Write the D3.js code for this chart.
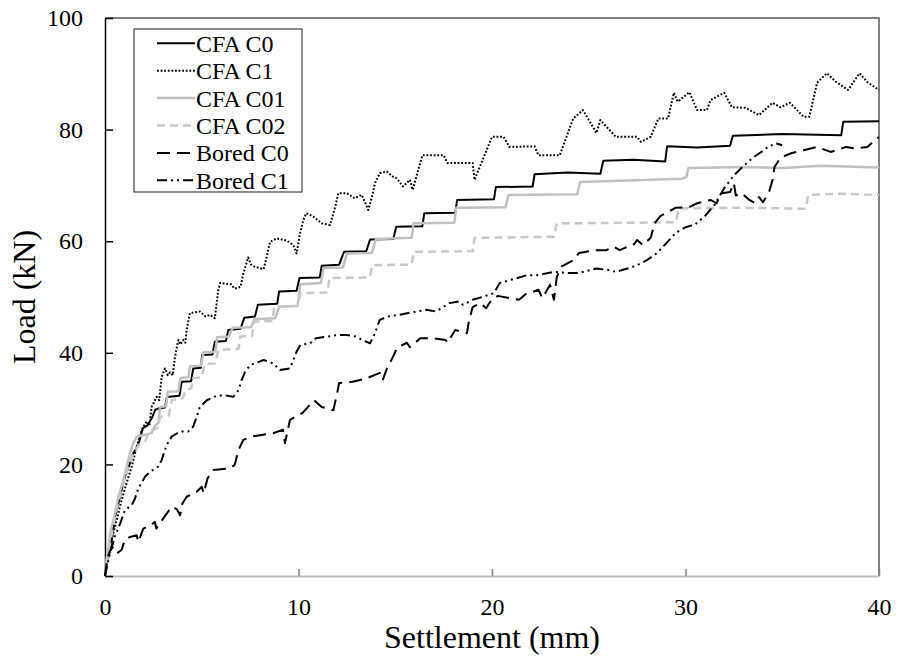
<!DOCTYPE html>
<html>
<head>
<meta charset="utf-8">
<script src="https://cdn.jsdelivr.net/npm/d3@7"></script>
<style>
  body { margin: 0; background: #fff; }
  text { font-family: "Liberation Serif", "Times New Roman", serif; }
</style>
</head>
<body>
<script>
const width = 897;
const height = 658;

const xTicks = [0, 10, 20, 30, 40];
const yTicks = [0, 20, 40, 60, 80, 100];
const seriesNames = ["CFA C0", "CFA C1", "CFA C01", "CFA C02", "Bored C0", "Bored C1"];

// [settlement (mm), load (kN)]
const cfaC0 = [[0,0],[0.1,2.5],[0.26,4.7],[0.35,6.5],[0.52,10.6],[0.69,13],[0.86,15.4],[1.03,17.8],[1.29,20.2],[1.46,22],[1.72,23.5],[1.96,26.5],[2.2,27],[2.45,28.5],[2.6,29.8],[2.75,30],[3.1,30.2],[3.2,32.1],[3.85,32.3],[3.96,34.8],[4.45,34.9],[4.56,37.2],[4.95,37.3],[5.02,39.6],[5.55,39.7],[5.68,42],[6.25,42.1],[6.37,44.1],[7.0,44.3],[7.2,46.3],[7.75,46.5],[7.9,48.6],[8.9,48.8],[9.0,51],[9.9,51.1],[10.05,53.4],[11.1,53.5],[11.2,55.6],[12.1,55.8],[12.35,58.1],[13.5,58.2],[13.7,60.3],[14.9,60.4],[15.05,62.6],[16.4,62.7],[16.5,65],[18.1,65.1],[18.2,67.4],[20.1,67.5],[20.2,69.7],[22.1,69.8],[22.2,72],[23.9,72.3],[25.6,72.1],[25.75,74.4],[27.3,74.6],[28.95,74.3],[29.05,77],[30.6,76.8],[32.3,77.1],[32.45,78.9],[35,79.2],[38.05,79],[38.15,81.4],[40,81.5]];

const cfaC1 = [[0,0],[0.15,3],[0.35,6.5],[0.6,10],[0.85,13.5],[1.1,16.5],[1.38,19.6],[1.64,23.2],[1.9,26.2],[2.15,27.7],[2.3,27],[2.41,30.3],[2.67,32.1],[2.8,31.5],[2.93,35.7],[3.1,37.2],[3.25,36],[3.36,36.5],[3.5,36],[3.62,39.3],[3.79,42.3],[3.9,41.5],[4.05,42.3],[4.15,41.8],[4.22,44.1],[4.39,47.1],[4.9,47.4],[5.2,46.5],[5.43,46.8],[5.68,46.2],[5.77,48.9],[5.86,51.3],[5.95,52.5],[6.5,52.3],[6.7,51.5],[7.0,51.8],[7.15,54.2],[7.4,57.1],[7.55,55.8],[7.75,55.4],[8.2,55],[8.36,57.2],[8.53,59.9],[8.87,60.5],[9.4,60.1],[9.73,59.3],[9.9,57.8],[10.08,61.4],[10.25,63.8],[10.4,65],[10.77,64.4],[11.2,63.2],[11.63,62.9],[11.9,66.2],[12.06,68.6],[12.5,68.6],[12.9,67.7],[13.27,68.3],[13.5,66.5],[13.6,65.6],[13.8,68],[13.95,70.4],[14.2,72.2],[14.56,72.5],[14.9,71.5],[15.07,71.3],[15.4,69.8],[15.76,71],[15.9,69.2],[16.4,75.4],[17.5,75.4],[17.7,74],[19.0,74],[19.1,71],[20.0,78.7],[20.6,78.7],[20.9,76.9],[22.2,77],[22.4,75.4],[23.5,75.4],[24.2,82],[24.7,83.5],[25.4,79.4],[25.6,81.7],[26.4,78.7],[27.5,78.7],[27.7,77.8],[28.2,78.7],[28.6,82],[29.1,82],[29.4,86.6],[29.6,85],[30.2,86.7],[30.6,83.5],[31.1,83.5],[31.3,85.3],[32,86.6],[32.4,84],[33.1,83.9],[33.8,82.6],[34.5,84.8],[34.9,84],[35.4,84.8],[36.1,82.3],[36.4,82.3],[36.8,88.4],[37.3,90.1],[37.8,88.5],[38.4,87.1],[39,90.1],[39.4,88.5],[40,87.1]];

const cfaC01 = [[0,0],[0.08,3],[0.17,4.7],[0.26,7.7],[0.52,11.3],[0.69,14.2],[0.95,17.2],[1.12,19.6],[1.29,22],[1.46,23.8],[1.64,25],[2.1,25.3],[2.4,25.6],[2.6,27],[2.75,27.4],[2.85,30.3],[3.15,30.4],[3.25,33],[3.8,33.1],[3.9,35.5],[4.3,35.6],[4.4,37.6],[4.95,37.7],[5.1,40.1],[5.7,40.2],[5.8,42.8],[6.4,42.9],[6.6,44.5],[7.55,44.6],[7.7,46],[8.8,46.2],[9.0,48.3],[9.95,48.4],[10.1,52.3],[11.15,52.5],[11.3,55.2],[12.3,55.3],[12.5,57.8],[13.8,57.9],[14.0,60.4],[15.85,60.6],[15.95,63.2],[18.05,63.3],[18.15,66],[20.7,66.1],[20.85,68.3],[24.4,68.4],[24.55,70.6],[27,70.9],[29.8,71.2],[30.05,71.5],[30.15,73.1],[33,73.3],[35,73.1],[37,73.5],[40,73.2]];

const cfaC02 = [[0,0],[0.1,2.5],[0.22,5],[0.4,8.5],[0.6,12],[0.85,15.5],[1.15,19],[1.45,21.8],[1.75,23.5],[2.1,24.3],[2.3,26],[2.7,26.5],[2.85,28.5],[3.3,28.8],[3.45,31.5],[4.0,31.8],[4.2,33.4],[4.45,33.6],[4.55,35.5],[5.0,35.6],[5.15,38],[5.7,38.1],[5.85,40.5],[6.9,40.7],[7.0,42.9],[7.6,43],[7.7,45.6],[8.65,45.7],[8.75,48.3],[9.95,48.4],[10.1,50.7],[11.5,50.8],[11.6,53.4],[13.7,53.5],[13.8,55.7],[15.85,55.8],[15.95,58.1],[19.0,58.2],[19.1,60.6],[23.2,60.8],[23.35,63.2],[27,63.3],[29.5,63.4],[29.65,65.9],[33,66],[36.2,65.8],[36.35,68.3],[38,68.5],[40,68.3]];

const boredC0 = [[0,0],[0.1,3],[0.35,5.3],[0.6,4],[0.86,4.7],[1.03,6.5],[1.3,7],[1.64,7.3],[1.72,6.1],[1.98,8.5],[2.3,9],[2.58,9.7],[2.65,8.5],[3.19,11.2],[3.45,12.4],[3.7,12],[3.88,10.9],[4.0,13],[4.22,14.2],[4.74,15.1],[5.0,16],[5.1,14.8],[5.3,17.5],[5.6,19],[6.46,19.3],[6.7,19.9],[6.9,22.6],[7.15,24.4],[7.6,25],[8.7,25.6],[9.2,26.2],[9.3,23.8],[9.56,28],[10.2,29.2],[10.8,31.5],[11.2,30.3],[11.8,29.7],[12.0,32.8],[12.1,34.6],[12.8,34.8],[13.5,35.4],[14.2,36.4],[14.35,35.1],[14.6,37.5],[14.8,38.7],[15.1,40.9],[15.6,41.8],[15.75,41],[16.3,42.6],[17,42.6],[17.6,42.3],[17.7,41.8],[18.1,44.1],[18.7,43.5],[18.8,45.5],[19.0,48.2],[19.4,48.9],[19.7,48],[19.9,49.1],[20.3,50.2],[20.9,49.8],[21.4,49.5],[21.8,50.7],[22.1,50.9],[22.4,51.3],[22.6,49.8],[23.0,52.2],[23.2,49.5],[23.35,53.6],[23.6,55.5],[24.2,56.6],[24.5,57.9],[25.4,58.4],[25.9,58.4],[26.3,59],[26.6,58.4],[27,59],[27.3,59.3],[27.5,60.2],[27.8,59.3],[28.2,60.6],[28.4,63.2],[28.7,64.5],[29.5,66],[30.2,66.1],[30.6,66.8],[31.3,67.4],[31.6,66.8],[31.9,68.6],[32.3,68.8],[32.5,70.4],[32.6,68.2],[32.9,68.6],[33.3,67.4],[33.6,66.8],[33.8,67.9],[34.0,67],[34.3,68.6],[34.5,71],[34.6,73.3],[34.9,74.9],[35.2,75.4],[35.5,75.8],[36.1,76.3],[36.8,76.9],[37.5,76],[37.9,76.4],[38.3,76.9],[38.8,76.6],[39.4,76.9],[39.9,78.5],[40,78.6]];

const boredC1 = [[0,0],[0.15,2.5],[0.3,4.5],[0.5,7],[0.78,9.4],[1.03,11.8],[1.38,12.7],[1.55,13.9],[1.72,15.7],[2.07,17.8],[2.33,18.7],[2.75,19.6],[2.93,20.8],[3.19,23.5],[3.45,25],[3.88,25.9],[4.3,25.9],[4.56,26.8],[4.74,28.5],[4.9,30.3],[5.26,31.5],[5.77,32.3],[6.2,32.4],[6.63,32.1],[6.9,33.3],[7.06,35.1],[7.24,36.6],[7.5,37.8],[8.2,38.7],[8.7,38.1],[9.04,36.9],[9.56,37.2],[9.9,40.2],[10.1,41.4],[10.6,41.7],[10.9,42.6],[11.5,42.9],[12,43.2],[12.5,43.2],[13,42.9],[13.3,42.3],[13.7,41.7],[13.95,43.5],[14.2,45.9],[14.6,46.5],[15.2,46.8],[16.1,47.4],[16.6,47.7],[17.1,47.4],[17.8,48.9],[18.3,49.2],[18.5,48.6],[19.0,49.5],[19.5,50],[20.1,50.7],[20.4,52.5],[20.9,53],[21.8,53.9],[22.3,53.9],[23.2,54.5],[23.9,54.3],[24.5,54.3],[25.4,55.1],[26.1,54.8],[26.4,54.5],[27,55.1],[27.5,55.7],[28,56.6],[28.5,57.8],[29,59.6],[29.5,61.5],[30,62.5],[30.5,63],[31,64.5],[31.5,66.5],[32,69.5],[32.5,71.8],[33,73.5],[33.5,75],[34,76.2],[34.3,77],[34.7,77.5],[35,77.2]];

const seriesData = [cfaC0, cfaC1, cfaC01, cfaC02, boredC0, boredC1];

const styles = [
  { color: "#000", width: 2, dash: null },
  { color: "#000", width: 2, dash: "1.8,1.8" },
  { color: "#c0c0c0", width: 2.5, dash: null },
  { color: "#c8c8c8", width: 2.5, dash: "8,5" },
  { color: "#000", width: 2, dash: "13,7" },
  { color: "#000", width: 2, dash: "10,4,2,4,2,4" },
];

const svg = d3
  .select("body")
  .append("svg")
  .attr("width", width)
  .attr("height", height);

const x = d3.scaleLinear().domain([0, 40]).range([105, 879]);
const y = d3.scaleLinear().domain([0, 100]).range([576, 18]);

// plot frame (top and right)
svg
  .append("path")
  .attr("d", `M${x(0)},${y(100)}H${x(40)}V${y(0)}`)
  .attr("fill", "none")
  .attr("stroke", "#595959")
  .attr("stroke-width", 1.5);

// x axis
const xAxis = svg
  .append("g")
  .attr("transform", `translate(0,${y(0)})`)
  .call(
    d3.axisBottom(x).tickValues(xTicks).tickSizeInner(-7).tickSizeOuter(0).tickPadding(22)
  )
  .attr("font-family", "Liberation Serif")
  .attr("font-size", 24);
xAxis.select(".domain").attr("stroke", "#bfbfbf").attr("stroke-width", 2);
xAxis.selectAll(".tick line").attr("stroke", "#808080").attr("stroke-width", 1.5);
xAxis.selectAll(".tick text").attr("fill", "#000");

// y axis
const yAxis = svg
  .append("g")
  .attr("transform", `translate(${x(0)},0)`)
  .call(
    d3.axisLeft(y).tickValues(yTicks).tickSizeInner(-8).tickSizeOuter(0).tickPadding(22)
  )
  .attr("font-family", "Liberation Serif")
  .attr("font-size", 24);
yAxis.select(".domain").attr("stroke", "#000").attr("stroke-width", 1.5);
yAxis.selectAll(".tick line").attr("stroke", "#000").attr("stroke-width", 1.5);
yAxis.selectAll(".tick text").attr("fill", "#000");

// curves
const line = d3
  .line()
  .x((d) => x(d[0]))
  .y((d) => y(d[1]));

svg
  .selectAll("path.curve")
  .data(seriesData)
  .enter()
  .append("path")
  .attr("class", "curve")
  .attr("d", line)
  .attr("fill", "none")
  .attr("stroke", (d, i) => styles[i].color)
  .attr("stroke-width", (d, i) => styles[i].width)
  .attr("stroke-dasharray", (d, i) => styles[i].dash)
  .attr("stroke-linejoin", "round");

// axis titles
svg
  .append("text")
  .text("Settlement (mm)")
  .attr("x", (x(0) + x(40)) / 2)
  .attr("y", 648)
  .attr("text-anchor", "middle")
  .attr("font-size", 32);

svg
  .append("text")
  .text("Load (kN)")
  .attr("transform", `translate(35,${(y(0) + y(100)) / 2}) rotate(-90)`)
  .attr("text-anchor", "middle")
  .attr("font-size", 32);

// legend
const legend = svg.append("g").attr("transform", "translate(134,29)");

legend
  .append("rect")
  .attr("width", 168)
  .attr("height", 163)
  .attr("fill", "#fff")
  .attr("stroke", "#404040")
  .attr("stroke-width", 1.2);

const rows = legend
  .selectAll("g.row")
  .data(seriesNames)
  .enter()
  .append("g")
  .attr("class", "row")
  .attr("transform", (d, i) => `translate(0,${14.3 + i * 27.4})`);

rows
  .append("line")
  .attr("x1", 23)
  .attr("x2", 61)
  .attr("stroke", (d, i) => styles[i].color)
  .attr("stroke-width", (d, i) => styles[i].width)
  .attr("stroke-dasharray", (d, i) => styles[i].dash);

rows
  .append("text")
  .text((d) => d)
  .attr("x", 62)
  .attr("dy", "0.35em")
  .attr("font-size", 24);
</script>
</body>
</html>
